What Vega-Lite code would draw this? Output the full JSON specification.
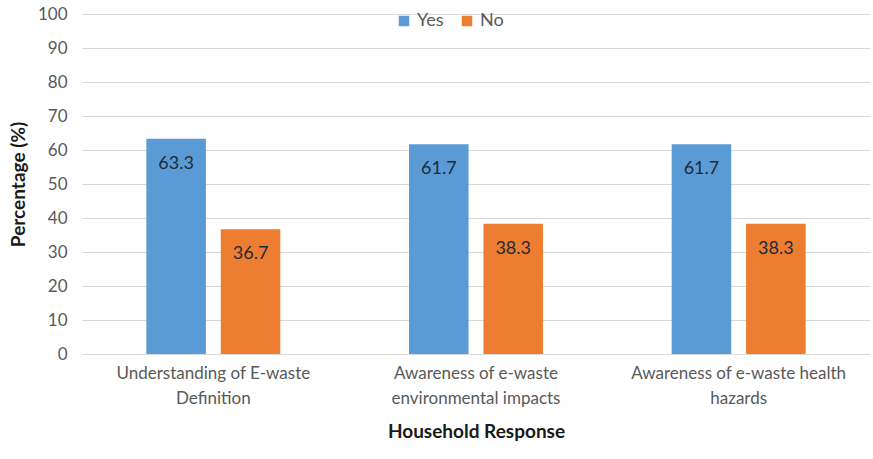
{
  "$schema": "https://vega.github.io/schema/vega-lite/v6.json",
  "width": 788,
  "height": 340,
  "autosize": {"type": "none"},
  "padding": {"left": 82, "top": 14, "right": 3, "bottom": 105},
  "background": "white",
  "config": {
    "font": "Lato",
    "view": {"stroke": null},
    "axis": {"labelColor": "#595959", "titleColor": "#1a1a1a", "labelFontSize": 17, "titleFontSize": 19, "titleFontWeight": "bold", "labelLimit": 0, "labelOverlap": false}
  },
  "data": {
    "values": [
      {"item": "Understanding of E-waste|Definition", "response": "Yes", "pct": 63.3},
      {"item": "Understanding of E-waste|Definition", "response": "No", "pct": 36.7},
      {"item": "Awareness of e-waste|environmental impacts", "response": "Yes", "pct": 61.7},
      {"item": "Awareness of e-waste|environmental impacts", "response": "No", "pct": 38.3},
      {"item": "Awareness of e-waste health|hazards", "response": "Yes", "pct": 61.7},
      {"item": "Awareness of e-waste health|hazards", "response": "No", "pct": 38.3}
    ]
  },
  "encoding": {
    "x": {
      "field": "item", "type": "nominal", "sort": null,
      "scale": {"paddingInner": 0.49, "paddingOuter": 0.245},
      "axis": {
        "title": "Household Response", "titlePadding": 16,
        "labelAngle": 0, "labelExpr": "split(datum.label, '|')", "labelLineHeight": 25,
        "labelPadding": 19, "ticks": false, "domain": false, "labelBaseline": "middle"
      }
    },
    "xOffset": {"field": "response", "type": "nominal", "sort": ["Yes", "No"], "scale": {"paddingInner": 0.2, "paddingOuter": 0}},
    "y": {
      "field": "pct", "type": "quantitative",
      "scale": {"domain": [0, 100], "nice": false},
      "axis": {
        "title": "Percentage (%)", "titlePadding": 9, "values": [0,10,20,30,40,50,60,70,80,90,100],
        "ticks": false, "domain": false, "labelPadding": 15,
        "gridColor": "#d9d9d9", "gridWidth": 1.2
      }
    }
  },
  "layer": [
    {
      "mark": {"type": "bar"},
      "encoding": {
        "color": {
          "field": "response", "type": "nominal", "sort": ["Yes", "No"],
          "scale": {"domain": ["Yes", "No"], "range": ["#5b9bd5", "#ed7d31"]},
          "legend": {
            "title": null, "orient": "none", "direction": "horizontal",
            "legendX": 313, "legendY": -2, "symbolType": "square", "symbolSize": 110,
            "labelFontSize": 18, "labelColor": "#595959", "columnPadding": 14, "labelOffset": 4
          }
        }
      }
    },
    {
      "mark": {"type": "text", "baseline": "middle", "dy": 25, "fontSize": 18, "color": "#1f2a38"},
      "encoding": {"text": {"field": "pct", "type": "quantitative", "format": ".1f"}}
    }
  ]
}
